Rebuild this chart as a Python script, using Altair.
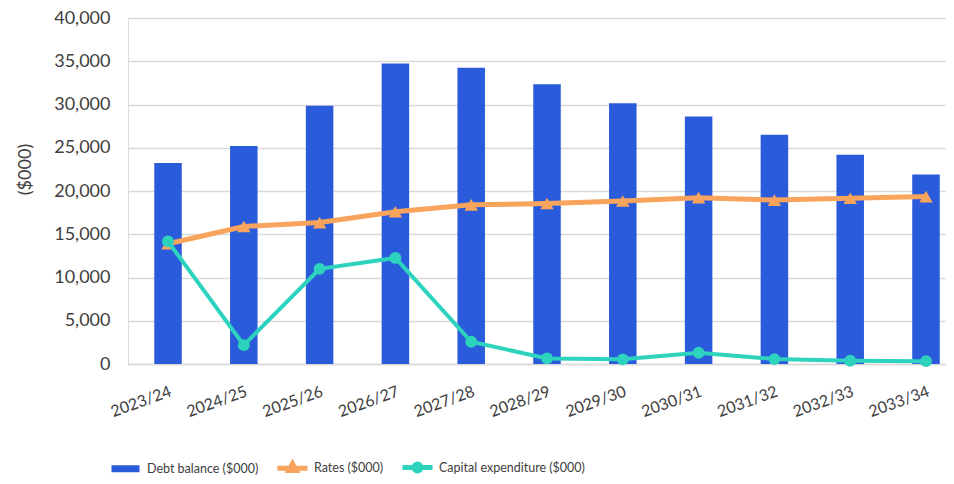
import altair as alt
import pandas as pd

years = ["2023/24", "2024/25", "2025/26", "2026/27", "2027/28", "2028/29",
         "2029/30", "2030/31", "2031/32", "2032/33", "2033/34"]
debt = [23250, 25200, 29850, 34750, 34250, 32330, 30150, 28600, 26500, 24200, 21900]
rates = [13900, 15900, 16350, 17600, 18400, 18550, 18850, 19230, 18950, 19160, 19350]
capex = [14170, 2180, 11000, 12260, 2570, 650, 540, 1300, 570, 380, 330]

series = ["Debt balance ($000)", "Rates ($000)", "Capital expenditure ($000)"]
colors = ["#2A5BDB", "#F8A45C", "#2ED3BE"]

FONT = "Lato"
TEXT = "#404040"

df = pd.DataFrame({"year": years, "debt": debt, "rates": rates, "capex": capex})
legend_df = pd.DataFrame({"series": series})

x_scale = alt.Scale(domain=years, paddingInner=0.637, paddingOuter=0.2144, align=0.808)
x_enc = alt.X("year:N", scale=x_scale, sort=years,
              axis=alt.Axis(title=None, labelAngle=-20, labelFont=FONT, labelFontSize=16,
                            labelColor=TEXT, ticks=False, domainColor="#d9d9d9",
                            domainWidth=1.5, grid=False, labelPadding=19))
y_scale = alt.Scale(domain=[0, 40000], nice=False)
y_axis = alt.Axis(title="($000)", values=list(range(0, 40001, 5000)), format=",.0f",
                  labelFont=FONT, labelFontSize=18, labelColor=TEXT, ticks=False,
                  domain=False, gridColor="#d9d9d9", gridWidth=1.5, labelPadding=18,
                  titleFont=FONT, titleFontSize=18, titleColor=TEXT, titleFontWeight="normal",
                  titleAngle=-90, titleX=-103, titleY=151, titleAlign="center",
                  titleBaseline="middle")

base = alt.Chart(df)

bars = base.mark_bar(color=colors[0]).encode(
    x=x_enc,
    y=alt.Y("debt:Q", scale=y_scale, axis=y_axis),
)

rate_line = base.mark_line(color=colors[1], strokeWidth=5).encode(
    x=alt.X("year:N", sort=years), y=alt.Y("rates:Q"))
rate_pts = base.mark_point(shape="triangle-up", filled=True, size=180, opacity=1,
                           color=colors[1]).encode(
    x=alt.X("year:N", sort=years), y=alt.Y("rates:Q"))

capex_line = base.mark_line(color=colors[2], strokeWidth=4).encode(
    x=alt.X("year:N", sort=years), y=alt.Y("capex:Q"))
capex_pts = base.mark_circle(size=140, opacity=1, color=colors[2]).encode(
    x=alt.X("year:N", sort=years), y=alt.Y("capex:Q"))

paths = [
    "M-0.767,-0.067H0.767V0.067H-0.767Z",
    "M-1,0H1M0,-0.3L0.25,0.15L-0.25,0.15Z",
    "M-1,0H1M0.233,0A0.233,0.233,0,1,1,-0.233,0A0.233,0.233,0,1,1,0.233,0Z",
]


def leg():
    return alt.Legend(
        orient="none", legendX=-20, legendY=432, direction="horizontal",
        title=None, symbolSize=900, labelFont=FONT, labelFontSize=12.5,
        labelColor=TEXT, columnPadding=8, labelOffset=4, symbolStrokeWidth=5,
        labelLimit=400)


legend_layer = alt.Chart(legend_df).mark_point(filled=True, opacity=1, strokeWidth=5).encode(
    color=alt.Color("series:N", scale=alt.Scale(domain=series, range=colors), legend=leg()),
    stroke=alt.Stroke("series:N", scale=alt.Scale(domain=series, range=colors), legend=leg()),
    shape=alt.Shape("series:N", scale=alt.Scale(domain=series, range=paths), legend=leg()),
).transform_filter("false")

chart = alt.layer(bars, rate_line, rate_pts, capex_line, capex_pts, legend_layer).properties(
    width=818, height=346,
    autosize=alt.AutoSizeParams(type="none"),
    padding={"left": 120, "top": 10, "right": 0, "bottom": 112},
).configure_view(stroke=None).configure(background="white")

chart.save("out.html", embed_options={"renderer": "svg", "actions": False})
